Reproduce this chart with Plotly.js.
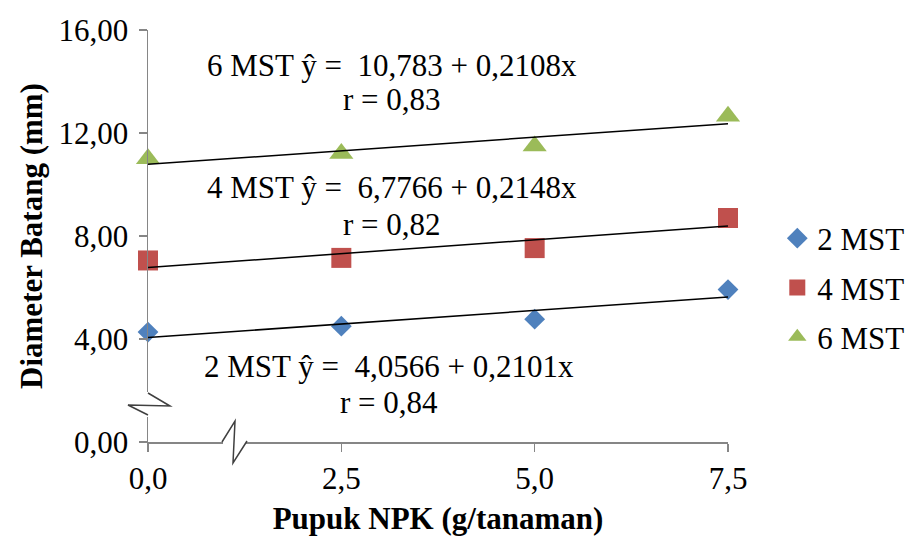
<!DOCTYPE html>
<html>
<head>
<meta charset="utf-8">
<script src="https://cdn.plot.ly/plotly-3.0.1.min.js"></script>
<style>html,body{margin:0;padding:0;background:#fff;}#chart{width:907px;height:539px;}</style>
</head>
<body>
<div id="chart"></div>
<script>
// ---- data ----
var xDose = [0, 2.5, 5, 7.5];
var seriesNames = ["2 MST", "4 MST", "6 MST"];
var mst2 = [4.27, 4.50, 4.77, 5.92];
var mst4 = [7.05, 7.15, 7.53, 8.70];
var mst6 = [11.00, 11.20, 11.50, 12.65];
var intercepts = [4.0566, 6.7766, 10.783];
var slopes = [0.2101, 0.2148, 0.2108];
var rValues = ["0,84", "0,82", "0,83"];
var eqLabels = ["4,0566", "6,7766", "10,783"];
var slopeLabels = ["0,2101", "0,2148", "0,2108"];
var yTicks = [0, 4, 8, 12, 16];

var colors = ["#4F81BD", "#C0504D", "#9BBB59"];
var symbols = ["diamond", "square", "triangle-up"];
var sizes = [16, 20, 21];
var allY = [mst2, mst4, mst6];
var FONT = "Times New Roman, Liberation Serif, serif";

var traces = [];
for (var i = 0; i < 3; i++) {
  traces.push({
    x: xDose, y: allY[i], type: "scatter", mode: "markers", name: seriesNames[i],
    legendgroup: "g" + i, cliponaxis: false,
    marker: {symbol: symbols[i], size: sizes[i], color: colors[i]}
  });
}
for (var j = 0; j < 3; j++) {
  var xs = [xDose[0], xDose[xDose.length - 1]];
  traces.push({
    x: xs, y: xs.map(function (v) { return intercepts[j] + slopes[j] * v; }),
    type: "scatter", mode: "lines", showlegend: false, hoverinfo: "skip",
    cliponaxis: false, line: {color: "#000000", width: 1.5}
  });
}

// pixel helpers for decorative axis-break symbols
var L = 148, T = 30, W = 580, H = 412;
function px(x) { return (x - L) / W; }
function py(y) { return (T + H - y) / H; }
function path(pts) {
  return pts.map(function (p, k) { return (k ? "L" : "M") + px(p[0]) + "," + py(p[1]); }).join(" ");
}

var nb = "\u00a0";
var annX = [3.12, 3.16, 3.16];
var annY1 = [2.95, 9.90, 14.62];
var annY2 = [1.55, 8.45, 13.30];
var annotations = [];
for (var k = 0; k < 3; k++) {
  annotations.push({x: annX[k], y: annY1[k], xref: "x", yref: "y", showarrow: false,
    text: seriesNames[k] + " ŷ =" + nb + nb + eqLabels[k] + " + " + slopeLabels[k] + "x",
    font: {family: FONT, size: 31, color: "#000"}});
  annotations.push({x: annX[k], y: annY2[k], xref: "x", yref: "y", showarrow: false,
    text: "r = " + rValues[k], font: {family: FONT, size: 31, color: "#000"}});
}

var shapes = [
  {type: "rect", xref: "paper", yref: "paper", x0: px(126), x1: px(172), y0: py(417), y1: py(392),
   fillcolor: "#ffffff", line: {width: 0}, layer: "above"},
  {type: "path", xref: "paper", yref: "paper", path: path([[148, 393], [170, 406], [128, 405], [148, 415]]),
   line: {color: "#404040", width: 1.5}, layer: "above"},
  {type: "rect", xref: "paper", yref: "paper", x0: px(223), x1: px(246), y0: py(466), y1: py(418),
   fillcolor: "#ffffff", line: {width: 0}, layer: "above"},
  {type: "path", xref: "paper", yref: "paper", path: path([[222, 442], [235, 421], [233, 463], [247, 441]]),
   line: {color: "#404040", width: 1.5}, layer: "above"}
];

var layout = {
  width: 907, height: 539,
  margin: {l: L, r: 907 - L - W, t: T, b: 539 - T - H, autoexpand: false},
  paper_bgcolor: "#ffffff", plot_bgcolor: "#ffffff",
  separators: ",.",
  font: {family: FONT, size: 31, color: "#000"},
  showlegend: true,
  legend: {x: 1.085, xanchor: "left", y: 0.375, yanchor: "middle",
    font: {family: FONT, size: 31, color: "#000"}, tracegroupgap: 6, bgcolor: "rgba(0,0,0,0)"},
  xaxis: {range: [0, 7.5], tickvals: xDose, tickformat: ".1f", showgrid: false, zeroline: false,
    showline: true, linecolor: "#868686", linewidth: 1.5, ticks: "outside", ticklen: 8, tickcolor: "#868686",
    tickwidth: 1.5, automargin: false,
    tickfont: {family: FONT, size: 31, color: "#000"},
    title: {text: "<b>Pupuk NPK (g/tanaman)</b>", font: {family: FONT, size: 31, color: "#000"}, standoff: 12}},
  yaxis: {range: [0, 16], tickvals: yTicks, tickformat: ".2f", showgrid: false, zeroline: false,
    showline: true, linecolor: "#868686", linewidth: 1.5, ticks: "outside", ticklen: 8, tickcolor: "#868686",
    tickwidth: 1.5, automargin: false, ticklabelstandoff: 4,
    tickfont: {family: FONT, size: 31, color: "#000"},
    title: {text: "<b>Diameter Batang (mm)</b>", font: {family: FONT, size: 31, color: "#000"}, standoff: 6}},
  annotations: annotations,
  shapes: shapes
};

Plotly.newPlot("chart", traces, layout, {displayModeBar: false, staticPlot: true});
</script>
</body>
</html>
